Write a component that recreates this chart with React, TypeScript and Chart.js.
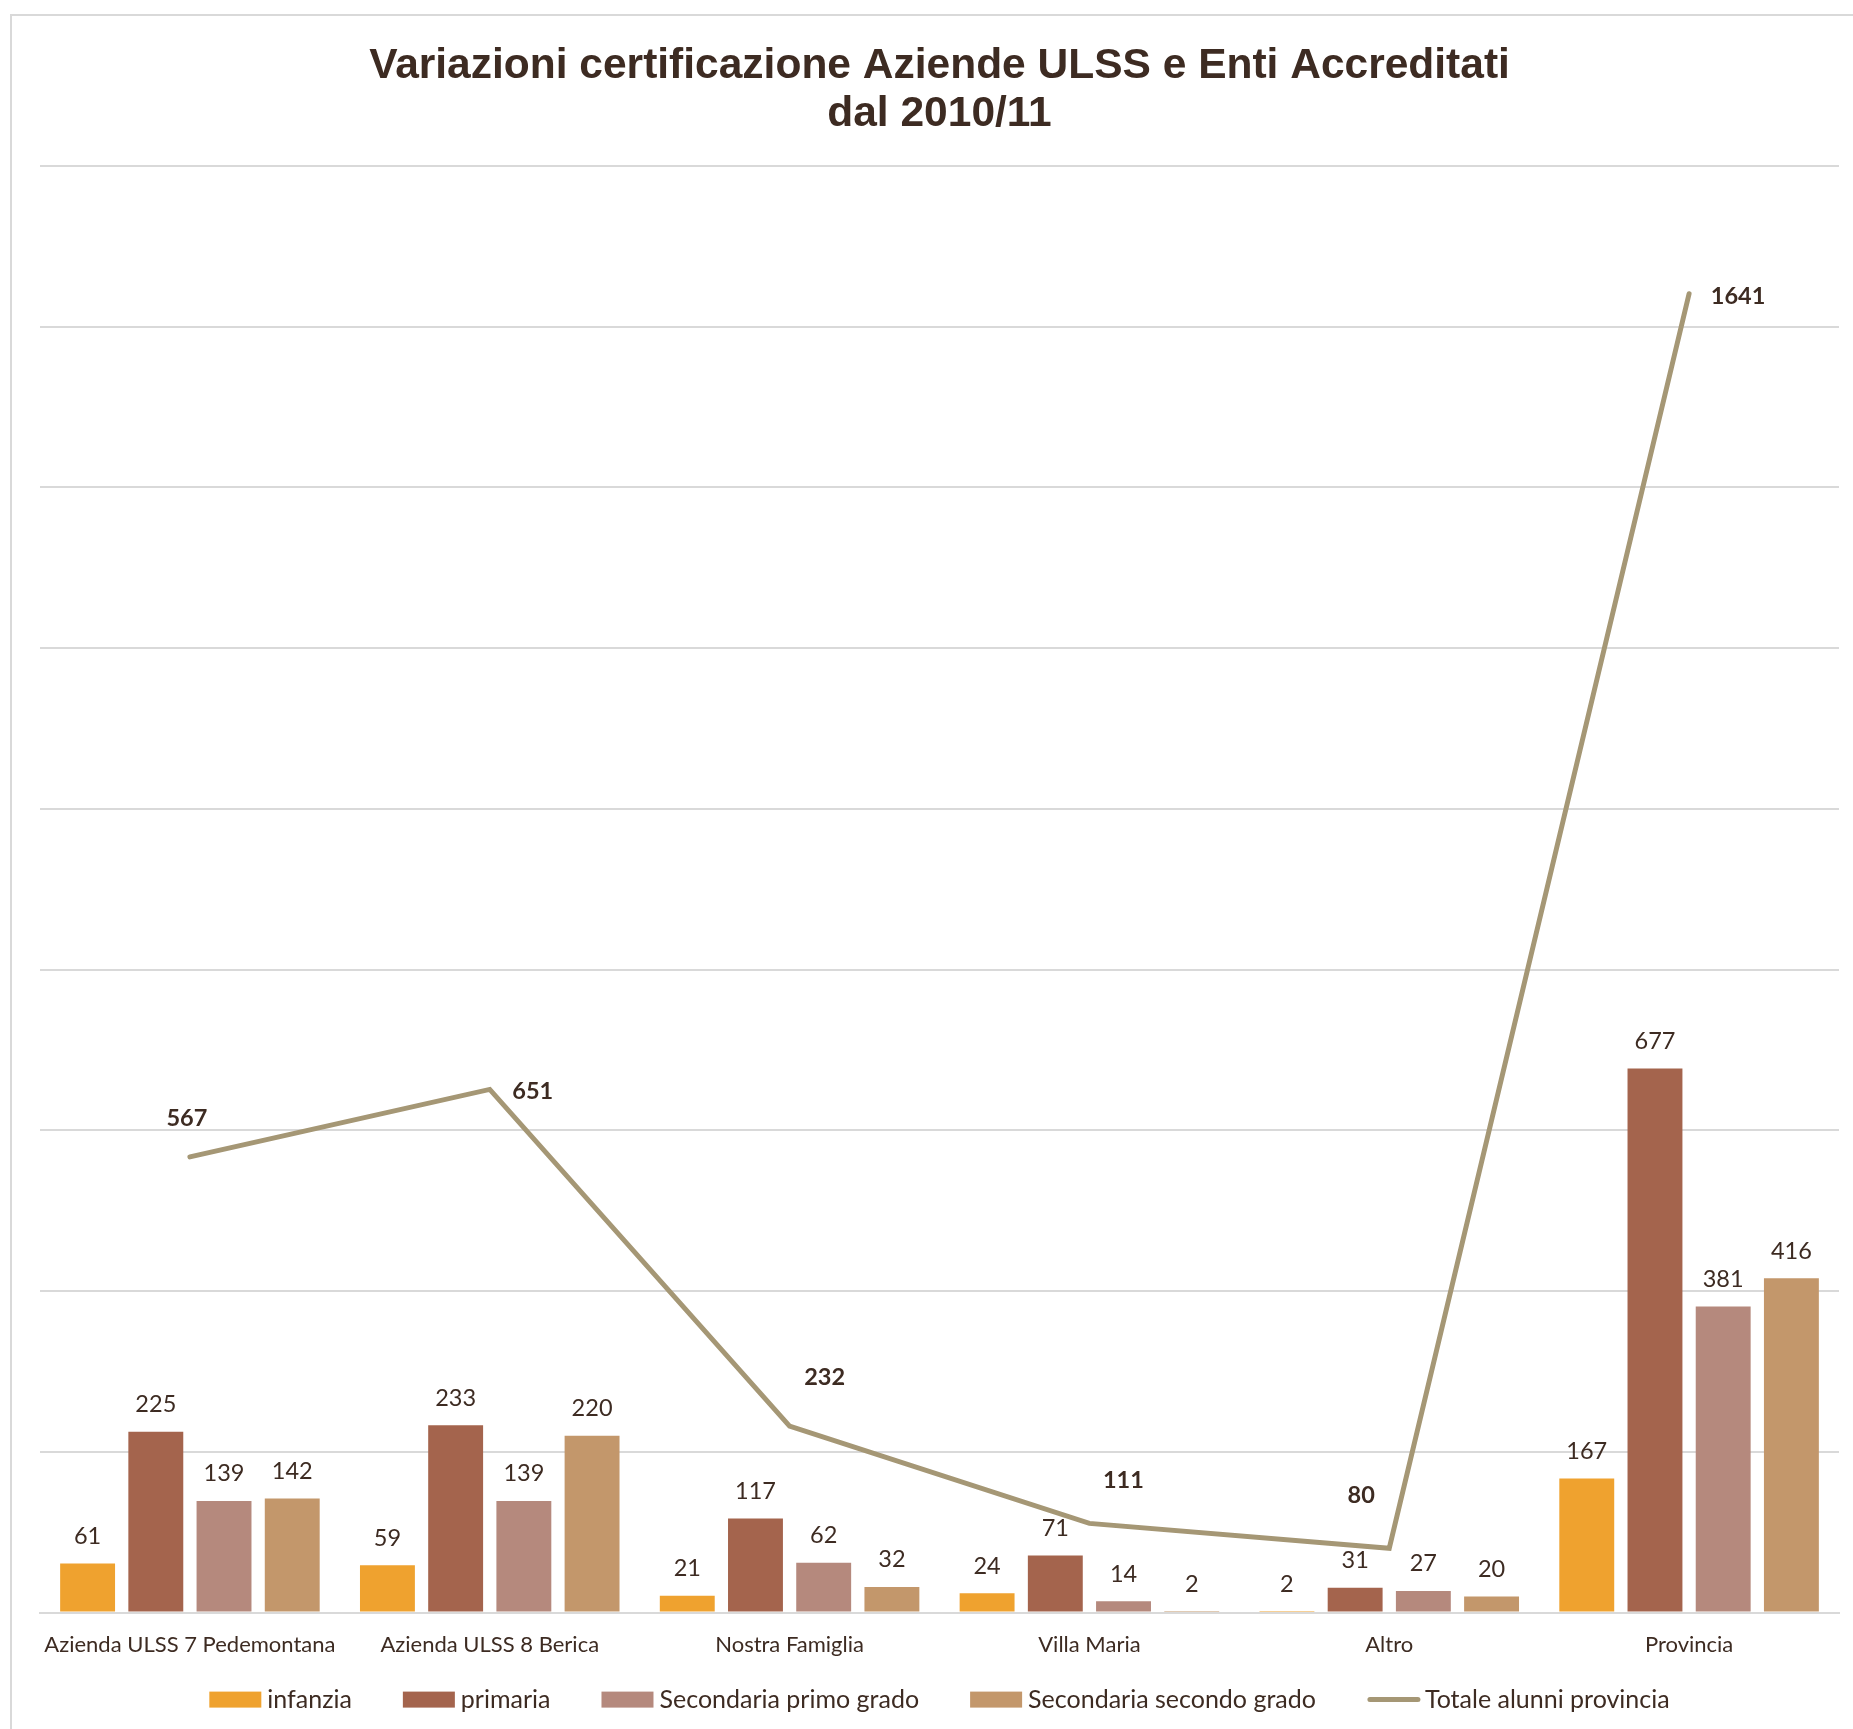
import React, { useEffect, useRef } from 'react';
import { Chart, registerables } from 'chart.js';

Chart.register(...registerables);

const categories = [
  'Azienda ULSS 7 Pedemontana',
  'Azienda ULSS 8 Berica',
  'Nostra Famiglia',
  'Villa Maria',
  'Altro',
  'Provincia',
];
const infanzia = [61, 59, 21, 24, 2, 167];
const primaria = [225, 233, 117, 71, 31, 677];
const secondariaPrimo = [139, 139, 62, 14, 27, 381];
const secondariaSecondo = [142, 220, 32, 2, 20, 416];
const totaleAlunni = [567, 651, 232, 111, 80, 1641];

const seriesNames = ['infanzia', 'primaria', 'Secondaria primo grado', 'Secondaria secondo grado', 'Totale alunni provincia'];
const titleLines = ['Variazioni certificazione Aziende ULSS e Enti Accreditati', 'dal 2010/11'];
const yMax = 1800;
const yStep = 200;

// label placement offsets (px) for the line's data labels
const lineLabelOffsets: [number, number][] = [[-3, -38], [43, 2], [35, -49], [34, -43], [-28, -53], [49, 3]];

const TEXT = '#3d2b22';
const GRID = '#d9d9d9';
const FONT = 'Lato';

const framePlugin = {
  id: 'frame',
  beforeDraw(chart: any) {
    const ctx = chart.ctx;
    ctx.save();
    ctx.fillStyle = '#ffffff';
    ctx.fillRect(0, 0, chart.width, chart.height);
    ctx.strokeStyle = GRID;
    ctx.lineWidth = 2;
    ctx.beginPath();
    ctx.moveTo(11, chart.height);
    ctx.lineTo(11, 15);
    ctx.lineTo(chart.width, 15);
    ctx.stroke();
    ctx.restore();
  },
};

const labelPlugin = {
  id: 'valueLabels',
  afterDatasetsDraw(chart: any) {
    const ctx = chart.ctx;
    ctx.save();
    ctx.fillStyle = TEXT;
    ctx.textAlign = 'center';
    ctx.textBaseline = 'middle';
    chart.data.datasets.forEach((ds: any, di: number) => {
      const meta = chart.getDatasetMeta(di);
      meta.data.forEach((el: any, i: number) => {
        const v = ds.data[i];
        if (ds.type === 'line') {
          ctx.font = `bold 23.5px ${FONT}`;
          const [dx, dy] = lineLabelOffsets[i];
          ctx.fillText(String(v), el.x + dx, el.y + dy);
        } else {
          ctx.font = `23.5px ${FONT}`;
          ctx.fillText(String(v), el.x, el.y - 27);
        }
      });
    });
    ctx.restore();
  },
};

// legend drawn below the axis, in dataset order
const legendPlugin = {
  id: 'customLegend',
  afterDraw(chart: any) {
    const ctx = chart.ctx;
    const area = chart.chartArea;
    const cy = area.bottom + 87;
    const boxW = 52;
    const boxH = 16;
    const gapText = 6;
    const gapItem = 51;
    ctx.save();
    ctx.font = `25px ${FONT}`;
    const items = chart.data.datasets.map((ds: any) => ({
      text: ds.label,
      color: ds.type === 'line' ? ds.borderColor : ds.backgroundColor,
      isLine: ds.type === 'line',
      w: boxW + gapText + ctx.measureText(ds.label).width,
    }));
    const total = items.reduce((s: number, it: any) => s + it.w, 0) + gapItem * (items.length - 1);
    let x = (area.left + area.right) / 2 - total / 2;
    ctx.textBaseline = 'middle';
    ctx.textAlign = 'left';
    items.forEach((it: any) => {
      if (it.isLine) {
        ctx.strokeStyle = it.color;
        ctx.lineWidth = 5;
        ctx.lineCap = 'round';
        ctx.beginPath();
        ctx.moveTo(x + 3, cy);
        ctx.lineTo(x + boxW - 1, cy);
        ctx.stroke();
      } else {
        ctx.fillStyle = it.color;
        ctx.fillRect(x, cy - boxH / 2, boxW, boxH);
      }
      ctx.fillStyle = TEXT;
      ctx.fillText(it.text, x + boxW + gapText, cy);
      x += it.w + gapItem;
    });
    ctx.restore();
  },
};

export default function App() {
  const ref = useRef<HTMLCanvasElement | null>(null);

  useEffect(() => {
    if (!ref.current) return;
    const barCommon = {
      type: 'bar' as const,
      categoryPercentage: 0.91,
      barPercentage: 0.805,
      borderWidth: 0,
      order: 2,
    };
    const chart = new Chart(ref.current, {
      type: 'bar',
      data: {
        labels: categories,
        datasets: [
          { ...barCommon, label: seriesNames[0], data: infanzia, backgroundColor: '#efa22f' },
          { ...barCommon, label: seriesNames[1], data: primaria, backgroundColor: '#a4644d' },
          { ...barCommon, label: seriesNames[2], data: secondariaPrimo, backgroundColor: '#b5897d' },
          { ...barCommon, label: seriesNames[3], data: secondariaSecondo, backgroundColor: '#c3976b' },
          {
            type: 'line' as const,
            label: seriesNames[4],
            data: totaleAlunni,
            borderColor: '#a59775',
            backgroundColor: '#a59775',
            borderWidth: 5,
            pointRadius: 0,
            pointHoverRadius: 0,
            borderCapStyle: 'round',
            borderJoinStyle: 'miter',
            tension: 0,
            fill: false,
            order: 1,
          } as any,
        ],
      },
      options: {
        responsive: false,
        animation: false,
        devicePixelRatio: 1,
        events: [],
        layout: { padding: { left: 40, right: 14, top: 0, bottom: 52 } },
        scales: {
          x: {
            grid: { display: false, drawTicks: false },
            border: { display: true, color: GRID, width: 2 },
            ticks: {
              color: TEXT,
              font: { family: FONT, size: 22 },
              padding: 19,
              maxRotation: 0,
              autoSkip: false,
            },
          },
          y: {
            min: 0,
            max: yMax,
            ticks: { display: false, stepSize: yStep },
            grid: { color: GRID, lineWidth: 2, drawTicks: false },
            border: { display: false },
          },
        },
        plugins: {
          title: {
            display: true,
            text: titleLines,
            color: TEXT,
            font: { family: 'Liberation Sans', size: 42.5, weight: 'bold', lineHeight: 48 / 42.5 },
            padding: { top: 42, bottom: 28 },
          },
          legend: { display: false },
          tooltip: { enabled: false },
        },
      },
      plugins: [framePlugin, labelPlugin, legendPlugin],
    });
    return () => chart.destroy();
  }, []);

  return (
    <div style={{ position: 'absolute', left: 0, top: 0, width: 1853, height: 1729, background: '#fff' }}>
      <canvas ref={ref} width={1853} height={1729} style={{ display: 'block', width: 1853, height: 1729 }} />
    </div>
  );
}
